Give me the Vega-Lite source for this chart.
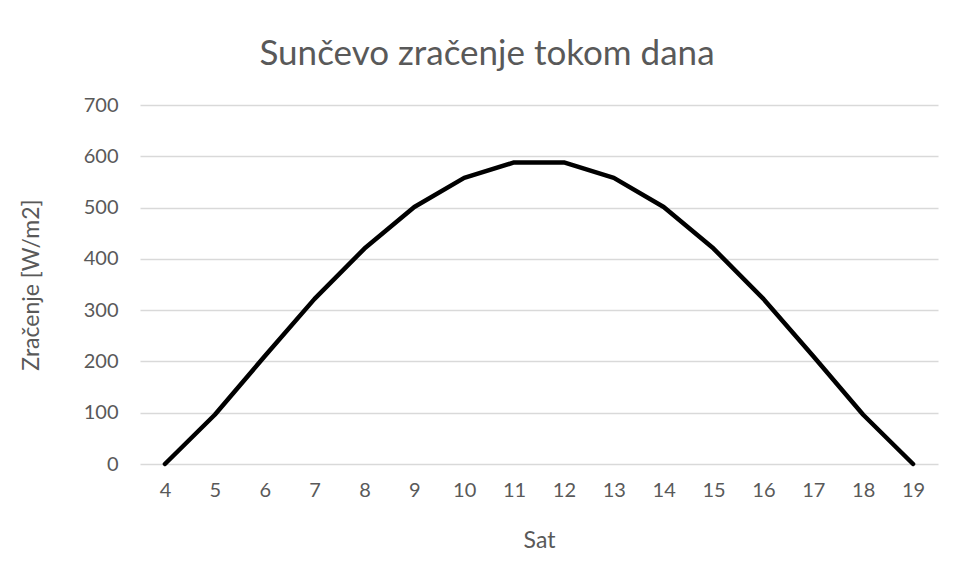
{
  "$schema": "https://vega.github.io/schema/vega-lite/v6.json",
  "width": 798,
  "height": 359,
  "autosize": {"type": "none"},
  "padding": {"left": 140, "top": 105, "right": 18, "bottom": 113},
  "background": "white",
  "title": {
    "text": "Sunčevo zračenje tokom dana",
    "font": "Lato",
    "fontSize": 35,
    "fontWeight": "normal",
    "color": "#595959",
    "anchor": "middle",
    "dx": -52,
    "offset": -5,
    "baseline": "alphabetic"
  },
  "data": {
    "values": [
      {"Sat": 4, "Z": 0},
      {"Sat": 5, "Z": 96},
      {"Sat": 6, "Z": 210},
      {"Sat": 7, "Z": 322},
      {"Sat": 8, "Z": 420},
      {"Sat": 9, "Z": 501},
      {"Sat": 10, "Z": 558},
      {"Sat": 11, "Z": 588},
      {"Sat": 12, "Z": 588},
      {"Sat": 13, "Z": 558},
      {"Sat": 14, "Z": 501},
      {"Sat": 15, "Z": 420},
      {"Sat": 16, "Z": 322},
      {"Sat": 17, "Z": 210},
      {"Sat": 18, "Z": 96},
      {"Sat": 19, "Z": 0}
    ]
  },
  "mark": {"type": "line", "color": "black", "strokeWidth": 4.5, "strokeCap": "round", "strokeJoin": "round"},
  "encoding": {
    "x": {
      "field": "Sat",
      "type": "ordinal",
      "sort": null,
      "scale": {"type": "point", "padding": 0.5},
      "axis": {
        "title": "Sat",
        "labelAngle": 0,
        "grid": false,
        "ticks": false,
        "domain": false,
        "labelPadding": 16,
        "titleY": 76,
        "titleBaseline": "middle"
      }
    },
    "y": {
      "field": "Z",
      "type": "quantitative",
      "scale": {"domain": [0, 700]},
      "axis": {
        "title": "Zračenje [W/m2]",
        "values": [0, 100, 200, 300, 400, 500, 600, 700],
        "ticks": false,
        "domain": false,
        "labelPadding": 22,
        "titleX": -109,
        "titleY": 179.5,
        "titleAlign": "center",
        "titleBaseline": "middle"
      }
    }
  },
  "config": {
    "view": {"stroke": null},
    "axis": {
      "labelFont": "Lato",
      "titleFont": "Lato",
      "labelFontSize": 20,
      "titleFontSize": 23,
      "titleFontWeight": "normal",
      "labelColor": "#595959",
      "titleColor": "#595959",
      "gridColor": "#D9D9D9",
      "gridWidth": 1.3
    }
  }
}
